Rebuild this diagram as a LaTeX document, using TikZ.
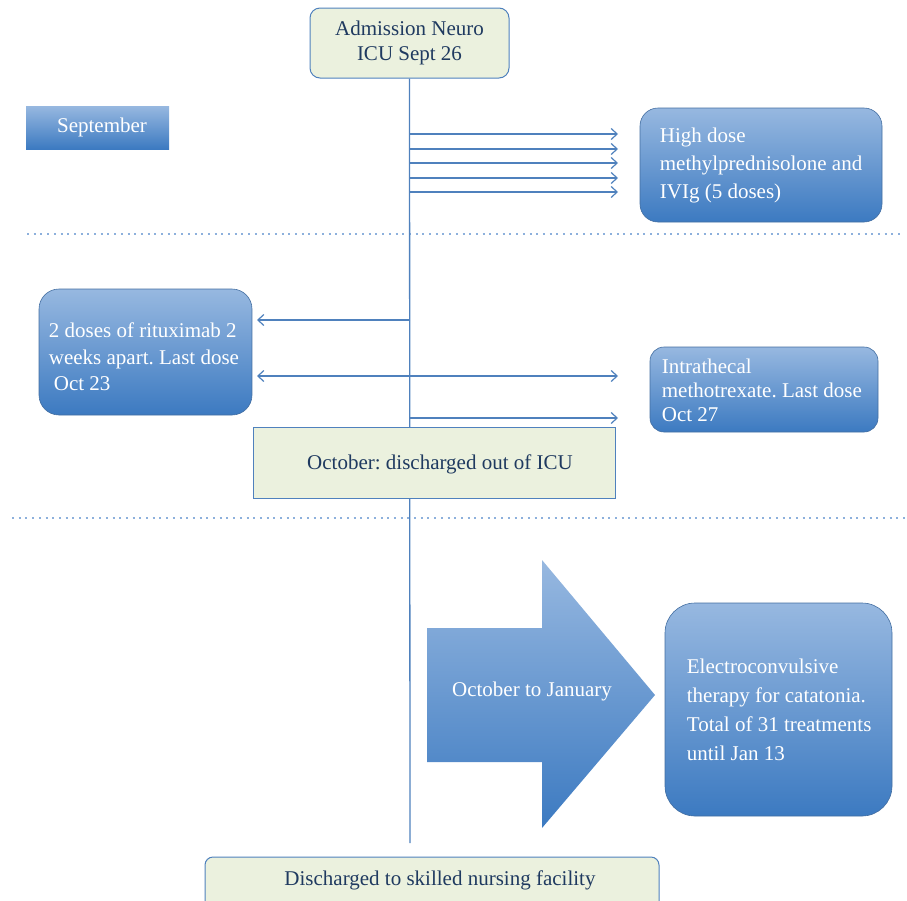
\documentclass[tikz,border=0pt]{standalone}
\usepackage{fontspec}
\setmainfont{Liberation Serif}
\frenchspacing
\usetikzlibrary{arrows.meta}
\definecolor{edge}{HTML}{4F81BD}
\definecolor{lgreen}{HTML}{EBF1DE}
\definecolor{navy}{HTML}{1F3A60}
\definecolor{topb}{HTML}{97B8E0}
\definecolor{botb}{HTML}{3C7AC1}
\definecolor{dotc}{HTML}{8DB0DC}
\begin{document}
\begin{tikzpicture}[x=1pt,y=-1pt,
  txt/.style={font=\fontsize{21}{28}\selectfont},
  greenbox/.style={txt,draw=edge,fill=lgreen,line width=1pt,text=navy,align=center,inner sep=0pt},
  bluebox/.style={draw=edge!85!black,line width=0.6pt,top color=topb,bottom color=botb,inner sep=0pt},
  btext/.style={txt,text=white,align=left,anchor=west,inner sep=0pt},
  conn/.style={draw=edge,line width=1.3pt},
  tip/.style={-{Straight Barb[length=6pt,width=11pt,line width=1.2pt]}},
  dots/.style={draw=dotc,line width=2pt,dash pattern=on 2pt off 4.7pt}
]
\useasboundingbox (0,0) rectangle (907,900);

% dotted separators
\draw[dots] (27,234) -- (902,234);
\draw[dots] (12,518) -- (907,518);

% top box
\node[greenbox,rounded corners=10pt,minimum width=199pt,minimum height=70pt,
      font=\fontsize{21}{25.5}\selectfont] (adm) at (409.5,43) {Admission Neuro\\ICU Sept 26};

% timeline
\coordinate (vend) at (410,843);
\draw[conn] (adm.south) -- (vend);

% September label
\node[bluebox,draw=none,minimum width=143pt,minimum height=43pt] (sep) at (97.5,127.5) {};
\node[txt,text=white] (septxt) at (102,127) {September};

% high dose box
\node[bluebox,rounded corners=18pt,minimum width=242pt,minimum height=114pt] (hd) at (761,165) {};
\node[btext] (hdtxt) at ([xshift=20pt,yshift=0pt]hd.west)
  {High dose\\methylprednisolone and\\IVIg (5 doses)};
\foreach \y/\n in {134/a,149/b,163/c,178/d,192/e}{
  \coordinate (s\n) at (410,\y);
  \coordinate (t\n) at (618,\y);
  \draw[conn,tip] (s\n) -- (t\n);
}

% rituximab box
\node[bluebox,rounded corners=20pt,minimum width=213pt,minimum height=126pt] (rit) at (145.5,352) {};
\node[btext,font=\fontsize{21}{26.5}\selectfont] (rittxt) at ([xshift=10pt,yshift=-5pt]rit.west)
  {2 doses of rituximab 2\\weeks apart. Last dose\\\hspace*{5pt}Oct 23};

% intrathecal box
\node[bluebox,rounded corners=14pt,minimum width=228pt,minimum height=85pt] (ith) at (764,389.5) {};
\node[btext,font=\fontsize{21}{24}\selectfont] (ithtxt) at ([xshift=12pt,yshift=-1pt]ith.west)
  {Intrathecal\\methotrexate. Last dose\\Oct 27};

% arrows in October
\coordinate (r1) at (410,320);
\coordinate (l1) at (257,320);
\coordinate (l2) at (257,376);
\coordinate (r2) at (618,376);
\coordinate (r3s) at (410,418);
\coordinate (r3) at (618,418);
\draw[conn,tip] (r1) -- (l1);
\draw[conn,{Straight Barb[length=6pt,width=11pt,line width=1.2pt]}-{Straight Barb[length=6pt,width=11pt,line width=1.2pt]}] (l2) -- (r2);
\draw[conn,tip] (r3s) -- (r3);

% October discharge box
\node[greenbox,minimum width=362pt,minimum height=71pt] (oct) at (434,462.5) {};
\node[txt,text=navy] (octtxt) at (440,464) {October: discharged out of ICU};

% big arrow
\shade[top color=topb,bottom color=botb] (427,628) -- (542,628) -- (542,560) -- (655,695) -- (542,828) -- (542,762) -- (427,762) -- cycle;
\node[txt,text=white] (otj) at (532,691) {October to January};

% ECT box
\node[bluebox,rounded corners=30pt,minimum width=227pt,minimum height=213pt] (ect) at (778.5,709.5) {};
\node[btext,font=\fontsize{21}{29}\selectfont] (ecttxt) at ([xshift=22pt,yshift=0pt]ect.west)
  {Electroconvulsive\\therapy for catatonia.\\Total of 31 treatments\\until Jan 13};

% bottom box
\draw[draw=edge,fill=lgreen,line width=1pt,rounded corners=8pt] (205,920) -- (205,857) -- (659,857) -- (659,920);
\node[txt,text=navy] (dis) at (440,880) {Discharged to skilled nursing facility};
\end{tikzpicture}
\end{document}
